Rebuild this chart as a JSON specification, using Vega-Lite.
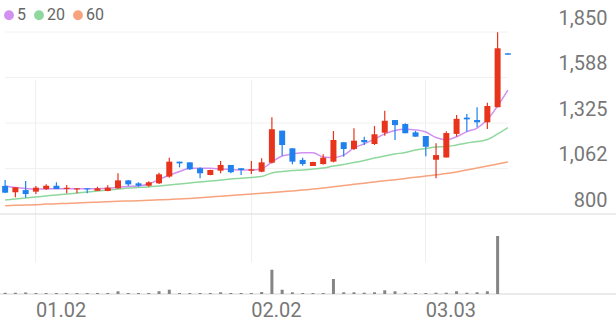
{
  "$schema": "https://vega.github.io/schema/vega-lite/v6.json",
  "width": 616,
  "height": 294,
  "padding": {"left": 0, "top": 0, "right": 0, "bottom": 27},
  "autosize": {"type": "none"},
  "background": "white",
  "config": {"view": {"stroke": null}, "font": "Roboto"},
  "datasets": {
    "candles": [
      {"d": "2025-12-26", "o": 962, "h": 996, "l": 921, "c": 923, "v": 1.2, "ma5": 962, "ma20": 881, "ma60": 848},
      {"d": "2025-12-29", "o": 925, "h": 955, "l": 896, "c": 954, "v": 1.2, "ma5": 953, "ma20": 887, "ma60": 850},
      {"d": "2025-12-30", "o": 938, "h": 990, "l": 894, "c": 915, "v": 1.5, "ma5": 947, "ma20": 892, "ma60": 852},
      {"d": "2026-01-02", "o": 929, "h": 962, "l": 915, "c": 952, "v": 1, "ma5": 944, "ma20": 898, "ma60": 854},
      {"d": "2026-01-05", "o": 944, "h": 971, "l": 938, "c": 963, "v": 1, "ma5": 944, "ma20": 904, "ma60": 857},
      {"d": "2026-01-06", "o": 963, "h": 983, "l": 944, "c": 944, "v": 1, "ma5": 946, "ma20": 910, "ma60": 859},
      {"d": "2026-01-07", "o": 944, "h": 967, "l": 919, "c": 952, "v": 1, "ma5": 946, "ma20": 915, "ma60": 861},
      {"d": "2026-01-08", "o": 942, "h": 948, "l": 919, "c": 948, "v": 1, "ma5": 946, "ma20": 921, "ma60": 863},
      {"d": "2026-01-09", "o": 948, "h": 948, "l": 919, "c": 942, "v": 1, "ma5": 946, "ma20": 927, "ma60": 866},
      {"d": "2026-01-12", "o": 934, "h": 957, "l": 934, "c": 948, "v": 1, "ma5": 946, "ma20": 933, "ma60": 868},
      {"d": "2026-01-13", "o": 933, "h": 966, "l": 931, "c": 952, "v": 1, "ma5": 948, "ma20": 938, "ma60": 870},
      {"d": "2026-01-14", "o": 948, "h": 1035, "l": 946, "c": 994, "v": 2.7, "ma5": 954, "ma20": 944, "ma60": 873},
      {"d": "2026-01-15", "o": 994, "h": 996, "l": 962, "c": 971, "v": 1, "ma5": 959, "ma20": 950, "ma60": 875},
      {"d": "2026-01-16", "o": 977, "h": 983, "l": 957, "c": 963, "v": 1, "ma5": 962, "ma20": 953, "ma60": 877},
      {"d": "2026-01-19", "o": 963, "h": 989, "l": 957, "c": 983, "v": 1, "ma5": 973, "ma20": 956, "ma60": 880},
      {"d": "2026-01-20", "o": 977, "h": 1038, "l": 973, "c": 1029, "v": 2.8, "ma5": 999, "ma20": 962, "ma60": 882},
      {"d": "2026-01-21", "o": 1016, "h": 1125, "l": 1009, "c": 1102, "v": 4.3, "ma5": 1025, "ma20": 967, "ma60": 884},
      {"d": "2026-01-22", "o": 1102, "h": 1102, "l": 1069, "c": 1092, "v": 1, "ma5": 1045, "ma20": 973, "ma60": 887},
      {"d": "2026-01-23", "o": 1098, "h": 1098, "l": 1054, "c": 1058, "v": 1, "ma5": 1064, "ma20": 979, "ma60": 890},
      {"d": "2026-01-26", "o": 1064, "h": 1069, "l": 1006, "c": 1035, "v": 1, "ma5": 1064, "ma20": 985, "ma60": 894},
      {"d": "2026-01-27", "o": 1025, "h": 1056, "l": 1023, "c": 1054, "v": 1, "ma5": 1064, "ma20": 990, "ma60": 898},
      {"d": "2026-01-28", "o": 1050, "h": 1106, "l": 1035, "c": 1083, "v": 1.7, "ma5": 1060, "ma20": 996, "ma60": 903},
      {"d": "2026-01-29", "o": 1083, "h": 1083, "l": 1035, "c": 1041, "v": 1, "ma5": 1057, "ma20": 1002, "ma60": 907},
      {"d": "2026-01-30", "o": 1064, "h": 1064, "l": 1025, "c": 1054, "v": 1, "ma5": 1054, "ma20": 1006, "ma60": 911},
      {"d": "2026-02-02", "o": 1050, "h": 1106, "l": 1031, "c": 1058, "v": 1, "ma5": 1054, "ma20": 1011, "ma60": 915},
      {"d": "2026-02-03", "o": 1044, "h": 1121, "l": 1041, "c": 1098, "v": 2, "ma5": 1061, "ma20": 1016, "ma60": 919},
      {"d": "2026-02-04", "o": 1096, "h": 1358, "l": 1092, "c": 1289, "v": 24.3, "ma5": 1100, "ma20": 1037, "ma60": 924},
      {"d": "2026-02-05", "o": 1281, "h": 1281, "l": 1136, "c": 1198, "v": 4.3, "ma5": 1135, "ma20": 1045, "ma60": 929},
      {"d": "2026-02-06", "o": 1179, "h": 1179, "l": 1087, "c": 1102, "v": 1.7, "ma5": 1146, "ma20": 1051, "ma60": 933},
      {"d": "2026-02-09", "o": 1112, "h": 1125, "l": 1079, "c": 1088, "v": 1, "ma5": 1154, "ma20": 1054, "ma60": 938},
      {"d": "2026-02-10", "o": 1077, "h": 1102, "l": 1077, "c": 1100, "v": 1, "ma5": 1154, "ma20": 1060, "ma60": 944},
      {"d": "2026-02-11", "o": 1088, "h": 1144, "l": 1086, "c": 1125, "v": 1, "ma5": 1129, "ma20": 1065, "ma60": 950},
      {"d": "2026-02-12", "o": 1102, "h": 1279, "l": 1098, "c": 1227, "v": 15, "ma5": 1126, "ma20": 1077, "ma60": 957},
      {"d": "2026-02-13", "o": 1214, "h": 1214, "l": 1131, "c": 1175, "v": 1.7, "ma5": 1140, "ma20": 1086, "ma60": 964},
      {"d": "2026-02-19", "o": 1175, "h": 1294, "l": 1169, "c": 1223, "v": 1.7, "ma5": 1181, "ma20": 1097, "ma60": 971},
      {"d": "2026-02-20", "o": 1227, "h": 1246, "l": 1198, "c": 1214, "v": 1.3, "ma5": 1205, "ma20": 1109, "ma60": 978},
      {"d": "2026-02-23", "o": 1204, "h": 1308, "l": 1198, "c": 1260, "v": 1.7, "ma5": 1233, "ma20": 1123, "ma60": 985},
      {"d": "2026-02-24", "o": 1269, "h": 1396, "l": 1252, "c": 1338, "v": 3.7, "ma5": 1262, "ma20": 1135, "ma60": 992},
      {"d": "2026-02-25", "o": 1342, "h": 1342, "l": 1227, "c": 1313, "v": 2.7, "ma5": 1282, "ma20": 1146, "ma60": 998},
      {"d": "2026-02-26", "o": 1319, "h": 1323, "l": 1266, "c": 1266, "v": 1.3, "ma5": 1289, "ma20": 1155, "ma60": 1005},
      {"d": "2026-02-27", "o": 1271, "h": 1279, "l": 1246, "c": 1246, "v": 1, "ma5": 1285, "ma20": 1169, "ma60": 1012},
      {"d": "2026-03-03", "o": 1250, "h": 1250, "l": 1133, "c": 1188, "v": 1, "ma5": 1273, "ma20": 1178, "ma60": 1019},
      {"d": "2026-03-04", "o": 1113, "h": 1208, "l": 1006, "c": 1140, "v": 1.3, "ma5": 1241, "ma20": 1187, "ma60": 1026},
      {"d": "2026-03-05", "o": 1126, "h": 1277, "l": 1126, "c": 1267, "v": 1.3, "ma5": 1228, "ma20": 1189, "ma60": 1033},
      {"d": "2026-03-06", "o": 1262, "h": 1371, "l": 1247, "c": 1349, "v": 2.7, "ma5": 1246, "ma20": 1198, "ma60": 1042},
      {"d": "2026-03-09", "o": 1356, "h": 1377, "l": 1275, "c": 1346, "v": 1.3, "ma5": 1275, "ma20": 1210, "ma60": 1054},
      {"d": "2026-03-10", "o": 1342, "h": 1416, "l": 1300, "c": 1329, "v": 1.7, "ma5": 1296, "ma20": 1218, "ma60": 1065},
      {"d": "2026-03-11", "o": 1329, "h": 1442, "l": 1290, "c": 1423, "v": 2.7, "ma5": 1345, "ma20": 1230, "ma60": 1077},
      {"d": "2026-03-12", "o": 1416, "h": 1848, "l": 1416, "c": 1756, "v": 58, "ma5": 1423, "ma20": 1262, "ma60": 1088},
      {"d": "2026-03-13", "o": 1727, "h": 1727, "l": 1719, "c": 1719, "v": 0, "ma5": 1515, "ma20": 1299, "ma60": 1100}
    ],
    "grid": [{"v": 1062}, {"v": 1325}, {"v": 1588}, {"v": 1850}]
  },
  "data": {"name": "candles"},
  "layer": [
    {
      "mark": {"type": "rule", "color": "#f0f0f0", "strokeWidth": 1},
      "data": {"name": "grid"},
      "encoding": {
        "x": {"datum": "2025-12-26", "type": "ordinal"},
        "x2": {"datum": "2026-03-13"},
        "y": {
          "field": "v", "type": "quantitative",
          "scale": {"domain": [800, 1850], "range": [214, 32], "nice": false, "zero": false},
          "axis": {
            "orient": "right", "values": [800, 1062, 1325, 1588, 1850], "format": ",d",
            "grid": false, "domain": false, "ticks": false, "tickSize": 0,
            "labelPadding": -9, "labelAlign": "right", "labelBaseline": "middle", "labelOffset": -14,
            "labelFontSize": 20, "labelColor": "#777777", "labelFont": "Roboto", "labelOverlap": false, "title": null
          }
        }
      }
    },
    {
      "data": {"values": [{"v": 800}]},
      "mark": {"type": "rule", "color": "#e6e6e6", "strokeWidth": 1.5},
      "encoding": {
        "y": {"field": "v", "type": "quantitative", "scale": {"domain": [800, 1850], "range": [214, 32], "nice": false, "zero": false}, "axis": null}
      }
    },
    {
      "data": {"values": [{"v": 0}]},
      "mark": {"type": "rule", "color": "#e3e3e3", "strokeWidth": 1.5},
      "encoding": {
        "y": {"field": "v", "type": "quantitative", "scale": {"domain": [0, 100], "range": [294, 194]}, "axis": null}
      }
    },
    {
      "transform": [{"fold": ["ma60", "ma20", "ma5"], "as": ["k", "val"]}],
      "mark": {"type": "line", "strokeWidth": 1.5, "interpolate": "monotone"},
      "encoding": {
        "x": {"field": "d", "type": "ordinal"},
        "y": {"field": "val", "type": "quantitative", "scale": {"domain": [800, 1850], "range": [214, 32], "nice": false, "zero": false}, "axis": null},
        "color": {
          "field": "k", "type": "nominal",
          "scale": {"domain": ["ma5", "ma20", "ma60"], "range": ["#d291f0", "#8fd89d", "#f7a37d"]},
          "legend": {
            "orient": "none", "legendX": 1, "legendY": 7, "direction": "horizontal", "title": null,
            "symbolType": "circle", "symbolSize": 24, "symbolStrokeWidth": 5,
            "labelFont": "Roboto", "labelFontSize": 16, "labelColor": "#666666",
            "labelOffset": 0, "columnPadding": 0, "padding": 0,
            "labelExpr": "substring(datum.label, 2)"
          }
        }
      }
    },
    {
      "mark": {"type": "rule", "strokeWidth": 1.2},
      "encoding": {
        "x": {
          "field": "d", "type": "ordinal",
          "scale": {"type": "band", "range": [0, 513], "paddingInner": 0, "paddingOuter": 0},
          "axis": {
            "orient": "bottom",
            "values": ["2026-01-02", "2026-02-02", "2026-03-03"],
            "labelExpr": "substring(datum.value, 5, 7) + '.' + substring(datum.value, 8, 10)",
            "bandPosition": 0.5, "labelAngle": 0, "labelAlign": "left", "labelBaseline": "top", "labelPadding": 6,
            "labelFontSize": 20, "labelColor": "#777777", "labelFont": "Roboto",
            "ticks": false, "tickSize": 0, "domain": false,
            "grid": true, "gridColor": "#efefef", "title": null, "labelOverlap": false, "labelFlush": false
          }
        },
        "y": {"field": "l", "type": "quantitative", "scale": {"domain": [800, 1850], "range": [214, 32], "nice": false, "zero": false}, "axis": null},
        "y2": {"field": "h"},
        "color": {"condition": {"test": "datum.c >= datum.o", "value": "#e8341c"}, "value": "#1f80ee"}
      }
    },
    {
      "mark": {"type": "bar", "size": 6},
      "encoding": {
        "x": {"field": "d", "type": "ordinal"},
        "y": {"field": "o", "type": "quantitative", "scale": {"domain": [800, 1850], "range": [214, 32], "nice": false, "zero": false}, "axis": null},
        "y2": {"field": "c"},
        "color": {"condition": {"test": "datum.c >= datum.o", "value": "#e8341c"}, "value": "#1f80ee"}
      }
    },
    {
      "mark": {"type": "bar", "size": 3, "color": "#858585"},
      "encoding": {
        "x": {"field": "d", "type": "ordinal"},
        "y": {"field": "v", "type": "quantitative", "scale": {"domain": [0, 100], "range": [294, 194]}, "axis": null}
      }
    }
  ],
  "resolve": {"scale": {"y": "independent"}}
}
